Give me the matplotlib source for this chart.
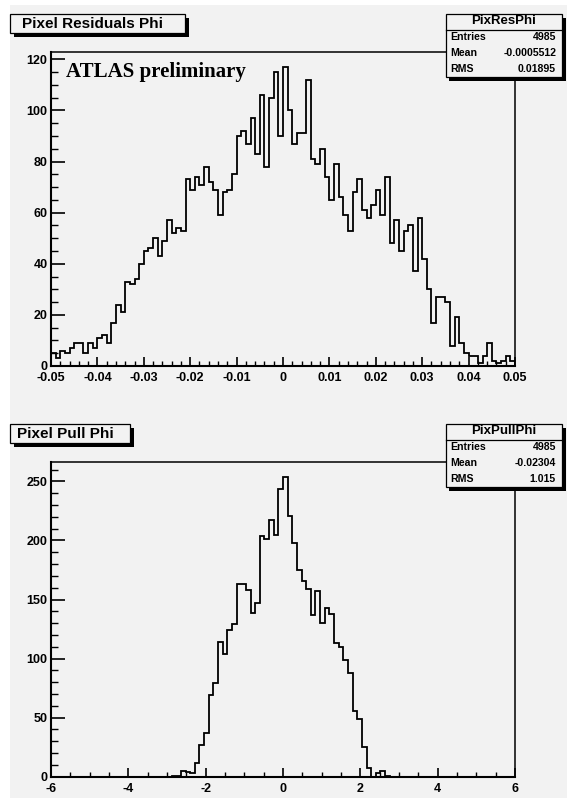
import numpy as np
import matplotlib.pyplot as plt
from matplotlib.patches import Rectangle
from matplotlib.ticker import MultipleLocator, FuncFormatter

# ---- data ----
res_edges = np.linspace(-0.05, 0.05, 101)
res_counts = [5, 3, 6, 5, 7, 9, 9, 5, 9, 7,
              11, 12, 9, 17, 24, 21, 33, 32, 34, 40,
              45, 46, 50, 43, 49, 57, 52, 54, 53, 73,
              69, 74, 71, 78, 72, 69, 59, 68, 69, 75,
              90, 92, 87, 97, 83, 106, 78, 105, 115, 90,
              117, 100, 87, 91, 91, 112, 81, 79, 85, 74,
              65, 79, 66, 59, 53, 68, 73, 61, 58, 63,
              69, 59, 74, 48, 57, 45, 53, 55, 37, 58,
              42, 30, 17, 27, 27, 25, 8, 19, 9, 5,
              4, 4, 1, 4, 9, 2, 1, 2, 4, 2]

pull_edges = np.linspace(-6, 6, 101)
pull_counts = [0] * 26 + [1, 1, 5, 4, 3, 12, 27, 37, 69, 79,
                          114, 104, 124, 129, 163, 163, 158, 139, 147, 204,
                          201, 217, 205, 244, 254, 221, 198, 175, 166, 159,
                          137, 157, 130, 143, 138, 113, 110, 99, 88, 56,
                          49, 25, 7, 0, 3, 5, 1]
pull_counts = pull_counts + [0] * (100 - len(pull_counts))

res_stats = [("Entries", "4985"), ("Mean", "-0.0005512"), ("RMS", "0.01895")]
pull_stats = [("Entries", "4985"), ("Mean", "-0.02304"), ("RMS", "1.015")]

W, H = 567, 798
GREY = '#f2f2f2'
SANS = 'Liberation Sans'

fig = plt.figure(figsize=(W / 100, H / 100), dpi=100)
fig.patch.set_facecolor(GREY)


def px_axes(left, top, right, bottom):
    return fig.add_axes([left / W, (H - bottom) / H, (right - left) / W, (bottom - top) / H])


def fmt(v, p):
    v = round(v, 4)
    if abs(v) < 1e-9:
        return '0'
    return '%g' % v


def hist_panel(top, bottom, edges, counts, xmaj, xmin, ymaj, ymin):
    ax = px_axes(51, top, 515, bottom)
    ax.set_facecolor(GREY)
    ax.stairs(counts, edges, color='black', lw=1.3)
    ax.set_xlim(edges[0], edges[-1])
    ax.set_ylim(0, max(counts) * 1.05)
    ax.xaxis.set_major_locator(MultipleLocator(xmaj))
    ax.xaxis.set_minor_locator(MultipleLocator(xmin))
    ax.yaxis.set_major_locator(MultipleLocator(ymaj))
    ax.yaxis.set_minor_locator(MultipleLocator(ymin))
    ax.xaxis.set_major_formatter(FuncFormatter(fmt))
    ax.tick_params(axis='x', which='major', direction='in', length=6.8, width=1.2, pad=4.5)
    ax.tick_params(axis='x', which='minor', direction='in', length=3.4, width=1.0)
    ax.tick_params(axis='y', which='major', direction='in', length=10, width=1.2, pad=2.5)
    ax.tick_params(axis='y', which='minor', direction='in', length=5, width=1.0)
    for lab in ax.get_xticklabels() + ax.get_yticklabels():
        lab.set_fontfamily(SANS)
        lab.set_fontweight('bold')
        lab.set_fontsize(9)
    for s in ['left', 'bottom']:
        ax.spines[s].set_linewidth(1.5)
    for s in ['top', 'right']:
        ax.spines[s].set_linewidth(1.1)
    return ax


ax1 = hist_panel(52, 366, res_edges, res_counts, 0.01, 0.002, 20, 5)
ax2 = hist_panel(461.7, 776.7, pull_edges, pull_counts, 2, 0.5, 50, 10)

# overlay in pixel coordinates for boxes and titles
ov = fig.add_axes([0, 0, 1, 1], zorder=10)
ov.set_xlim(0, W)
ov.set_ylim(H, 0)
ov.axis('off')

# white margin on the left / top of the canvas
ov.add_patch(Rectangle((0, 0), 10, H, facecolor='white', edgecolor='none'))
ov.add_patch(Rectangle((0, 0), W, 5, facecolor='white', edgecolor='none'))

ov.text(66, 77.3, "ATLAS preliminary", fontsize=15, va='baseline',
        family='Liberation Serif', weight='bold')


def box(x0, y0, x1, y1, sh=4):
    ov.add_patch(Rectangle((x0 + sh, y0 + sh), x1 - x0, y1 - y0, facecolor='black', edgecolor='none'))
    ov.add_patch(Rectangle((x0, y0), x1 - x0, y1 - y0, facecolor=GREY, edgecolor='black', lw=0.9))


def title_box(x1, top, text):
    box(10, top, x1, top + 18.5)
    ov.text((10 + x1) / 2 - 4.5, top + 9.5, text, fontsize=11, family=SANS, weight='bold',
            va='center', ha='center')


def stats_box(top, name, rows):
    box(445.7, top, 562.3, top + 63.3, sh=3.7)
    ov.plot([445.7, 562.3], [top + 16, top + 16], color='black', lw=0.9)
    ov.text(504, top + 7.5, name, fontsize=9.5, family=SANS, weight='bold', ha='center', va='center')
    for i, (k, v) in enumerate(rows):
        y = top + 23.5 + 15.5 * i
        ov.text(450.7, y, k, fontsize=7.6, family=SANS, weight='bold', ha='left', va='center')
        ov.text(556, y, v, fontsize=7.6, family=SANS, weight='bold', ha='right', va='center')


title_box(185, 14, "Pixel Residuals Phi")
stats_box(14, "PixResPhi", res_stats)
title_box(130, 424, "Pixel Pull Phi")
stats_box(424, "PixPullPhi", pull_stats)

fig.savefig('out.png', dpi=100, facecolor=fig.get_facecolor())
